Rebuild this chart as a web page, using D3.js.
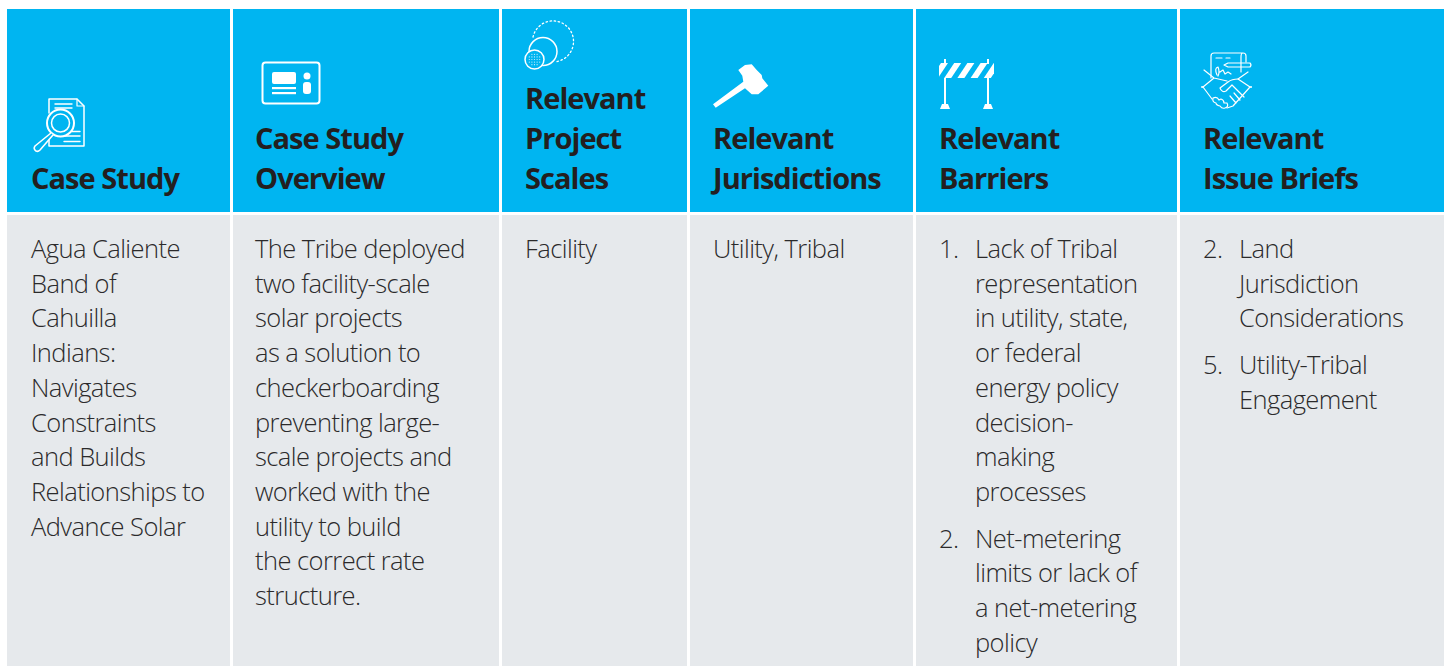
<!DOCTYPE html>
<html>
<head>
<meta charset="utf-8">
<script src="https://d3js.org/d3.v7.min.js"></script>
<style>
  html, body { margin: 0; padding: 0; background: #fff; overflow: hidden; }
  .head { font-family: 'Open Sans', sans-serif; font-weight: 700; font-size: 29px; fill: #231f20; letter-spacing: -0.95px; }
  .cell { font-family: 'Open Sans', sans-serif; font-weight: 300; font-size: 25.5px; fill: #2b2a2b; letter-spacing: -0.56px; }
  .ico { fill: none; stroke: #fff; stroke-width: 2; stroke-linecap: round; stroke-linejoin: round; }
  .solid { fill: #fff; stroke: none; }
</style>
</head>
<body>
<div id="chart"></div>
<script>
  // table content
  var headers = [
    ["Case Study"],
    ["Case Study", "Overview"],
    ["Relevant", "Project", "Scales"],
    ["Relevant", "Jurisdictions"],
    ["Relevant", "Barriers"],
    ["Relevant", "Issue Briefs"]
  ];
  var caseStudy = ["Agua Caliente", "Band of", "Cahuilla", "Indians:", "Navigates", "Constraints", "and Builds", "Relationships to", "Advance Solar"];
  var overview = ["The Tribe deployed", "two facility-scale", "solar projects", "as a solution to", "checkerboarding", "preventing large-", "scale projects and", "worked with the", "utility to build", "the correct rate", "structure."];
  var scales = ["Facility"];
  var jurisdictions = ["Utility, Tribal"];
  var barriers = [
    {num: "1.", lines: ["Lack of Tribal", "representation", "in utility, state,", "or federal", "energy policy", "decision-", "making", "processes"]},
    {num: "2.", lines: ["Net-metering", "limits or lack of", "a net-metering", "policy"]}
  ];
  var briefs = [
    {num: "2.", lines: ["Land", "Jurisdiction", "Considerations"]},
    {num: "5.", lines: ["Utility-Tribal", "Engagement"]}
  ];

  var width = 1448, height = 666;
  var colEdges = [7, 233, 502, 690, 916, 1180, 1444];
  var textX = [31, 255, 525, 713, 939, 1203];
  var gap = 3;
  var headTop = 9, headBottom = 211, bodyTop = 215;
  var headLast = 189, headStep = 40;
  var bodyFirst = 258, step = 34.72, listGap = 12, numIndent = 36;
  var blue = "#00b5f1";

  var svg = d3.select("#chart").append("svg")
    .attr("width", width)
    .attr("height", height)
    .style("display", "block");

  var cols = d3.range(6).map(function (i) {
    return {i: i, x0: colEdges[i], x1: i < 5 ? colEdges[i + 1] - gap : colEdges[i + 1]};
  });

  svg.selectAll(".hbg").data(cols).enter().append("rect")
    .attr("x", function (d) { return d.x0; })
    .attr("y", headTop)
    .attr("width", function (d) { return d.x1 - d.x0; })
    .attr("height", headBottom - headTop + 1)
    .attr("fill", blue);

  svg.selectAll(".bbg").data(cols).enter().append("rect")
    .attr("x", function (d) { return d.x0; })
    .attr("y", bodyTop)
    .attr("width", function (d) { return d.x1 - d.x0; })
    .attr("height", height - bodyTop)
    .attr("fill", "#e6e9ec");

  // header text, last line sits on the same baseline everywhere
  headers.forEach(function (lines, i) {
    svg.selectAll(null).data(lines).enter().append("text")
      .attr("class", "head")
      .attr("x", textX[i])
      .attr("y", function (d, j) { return headLast - (lines.length - 1 - j) * headStep; })
      .text(function (d) { return d; });
  });

  function plain(i, lines) {
    svg.selectAll(null).data(lines).enter().append("text")
      .attr("class", "cell")
      .attr("x", textX[i])
      .attr("y", function (d, j) { return bodyFirst + j * step; })
      .text(function (d) { return d; });
  }
  function list(i, items) {
    var y = bodyFirst;
    items.forEach(function (it) {
      svg.append("text").attr("class", "cell")
        .attr("x", textX[i]).attr("y", y).text(it.num);
      it.lines.forEach(function (l, j) {
        svg.append("text").attr("class", "cell")
          .attr("x", textX[i] + numIndent).attr("y", y + j * step).text(l);
      });
      y += it.lines.length * step + listGap;
    });
  }
  plain(0, caseStudy);
  plain(1, overview);
  plain(2, scales);
  plain(3, jurisdictions);
  list(4, barriers);
  list(5, briefs);

  // icons
  var ico = svg.append("g");

  // document + magnifier
  var doc = ico.append("g").attr("class", "ico");
  doc.append("path").attr("d", "M49 113V99H77L84 106V146H49V138").style("stroke-width", 1.5);
  doc.append("path").attr("d", "M77 99V106H84").style("stroke-width", 1.2);
  doc.append("path").attr("d", "M55 104H72M55 108H72M64 131.5H80M64 136H80M64 141.5H80").style("stroke-width", 1.4);
  doc.append("circle").attr("cx", 60.5).attr("cy", 123).attr("r", 13.5).attr("fill", blue).style("stroke-width", 2);
  doc.append("circle").attr("cx", 60.5).attr("cy", 123).attr("r", 9).style("stroke-width", 1.5);
  doc.append("path").attr("d", "M51 133L35 146Q33 149 36 151Q38 152 40 150L53 135").attr("fill", blue).style("stroke-width", 1.6);

  // id card
  ico.append("rect").attr("class", "ico").attr("x", 262.5).attr("y", 62.5).attr("width", 57).attr("height", 41).attr("rx", 3);
  ico.append("rect").attr("class", "solid").attr("x", 272).attr("y", 72).attr("width", 24).attr("height", 12).attr("rx", 2);
  ico.append("rect").attr("class", "solid").attr("x", 272).attr("y", 87).attr("width", 24).attr("height", 2.2);
  ico.append("rect").attr("class", "solid").attr("x", 272).attr("y", 92).attr("width", 24).attr("height", 2.2);
  ico.append("circle").attr("class", "solid").attr("cx", 307).attr("cy", 76).attr("r", 3.5);
  ico.append("rect").attr("class", "solid").attr("x", 303).attr("y", 82).attr("width", 8).attr("height", 12).attr("rx", 3);

  // nested circles
  var sc = ico.append("g").attr("class", "ico");
  sc.append("path").attr("d", "M533 37A20.5 20.5 0 1 1 556 61.7").style("stroke-width", 1.3).style("stroke-dasharray", "1.5 2.6");
  sc.append("circle").attr("cx", 543).attr("cy", 51.5).attr("r", 14).style("stroke-width", 1.5);
  sc.append("circle").attr("cx", 534.5).attr("cy", 59.5).attr("r", 9.5).attr("fill", blue).style("stroke-width", 1.5);
  d3.range(-2, 3).forEach(function (a) {
    d3.range(-2, 3).forEach(function (b) {
      if (a * a + b * b > 5) return;
      ico.append("circle").attr("class", "solid").style("fill-opacity", 0.8)
        .attr("cx", 534.5 + a * 2.6).attr("cy", 59.5 + b * 2.6).attr("r", 0.6);
    });
  });

  // gavel
  ico.append("path").attr("class", "solid")
    .attr("d", "M713 104.3L715.7 107.7L745 88.3L751.7 94.3L758.3 94.3L768.3 85.7L762.3 78.3L761.7 75L756.7 70L751.7 64.3L745 65L738.3 70L742.3 75.7L743.3 81.7Z");

  // road barrier
  var bar = ico.append("g");
  bar.append("clipPath").attr("id", "barClip").append("rect")
    .attr("x", 939).attr("y", 63).attr("width", 55).attr("height", 15);
  bar.append("g").attr("clip-path", "url(#barClip)")
    .selectAll("path").data(d3.range(5)).enter().append("path")
    .attr("class", "solid")
    .attr("d", function (i) {
      var x = 931 + i * 13.2;
      return "M" + x + " 78L" + (x + 10) + " 63H" + (x + 17) + "L" + (x + 7) + " 78Z";
    });
  [945, 988].forEach(function (cx) {
    bar.append("rect").attr("class", "solid").attr("x", cx - 1).attr("y", 59).attr("width", 2).attr("height", 5);
    bar.append("rect").attr("class", "solid").attr("x", cx - 1).attr("y", 78).attr("width", 2).attr("height", 28);
    bar.append("path").attr("class", "solid").attr("d", "M" + (cx - 5) + " 109L" + (cx - 3) + " 104H" + (cx + 3) + "L" + (cx + 5) + " 109Z");
  });

  // signed paper + handshake
  var hs = ico.append("g").attr("class", "ico").style("stroke-width", 1.2);
  hs.append("path").attr("d", "M1211 78V56Q1211 53 1214 53H1243Q1246 53 1246 56V62M1243 53Q1241 53 1241 57V72");
  hs.append("path").attr("d", "M1216 58H1222M1226 58H1230");
  hs.append("path").attr("d", "M1228 63H1250Q1252 65 1250 67H1228L1224 65Z");
  hs.append("path").attr("d", "M1217 75Q1214 68 1218 67Q1220 72 1218 76M1220 72L1223 70L1225 74L1228 72L1231 74");
  hs.append("path").attr("d", "M1204 70L1214 78L1203 87M1248 72L1238 79L1250 87M1214 78L1227 81");
  hs.append("path").attr("d", "M1238 79Q1232 79 1228 82L1220 88Q1222 93 1226 91L1232 85L1244 97");
  hs.append("path").attr("d", "M1203 87L1212 99M1250 87L1233 106L1227 108M1240 100L1234 93M1236 103L1230 96");
  hs.append("path").attr("d", "M1213 98Q1217 96 1219 100L1221 99Q1224 100 1224 103L1227 103Q1229 107 1225 108Q1222 109 1220 106Q1216 105 1216 103Q1212 102 1213 98Z");
  hs.append("path").attr("d", "M1202 87H1202.1M1251 87H1251.1").style("stroke-width", 1.8);
</script>
</body>
</html>
